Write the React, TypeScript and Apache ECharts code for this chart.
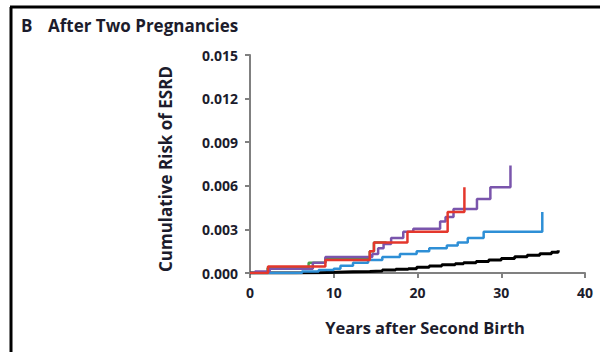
import React, { useEffect, useRef } from "react";
import * as echarts from "echarts";

const xTicks = [0, 10, 20, 30, 40];
const yTicks = [0, 0.003, 0.006, 0.009, 0.012, 0.015];

const blackYears = [0, 5.2, 8.2, 10.3, 12.3, 14.3, 15.8, 17.4, 18.9, 19.9, 21.4, 22.9, 24.5, 25.5, 27.0, 28.5, 30.0, 31.6, 33.1, 34.6, 36.0, 36.8];
const blackRisk = [0, 0.00002, 0.00005, 0.00008, 0.0001, 0.00014, 0.0002, 0.00025, 0.0003, 0.0004, 0.00048, 0.00056, 0.00063, 0.00071, 0.00079, 0.00089, 0.001, 0.00112, 0.00122, 0.00132, 0.00142, 0.00157];

const blueYears = [0, 6.2, 8.2, 10.0, 10.8, 12.3, 14.1, 15.8, 17.9, 19.9, 21.4, 23.5, 24.8, 26.0, 27.9, 34.9, 34.9];
const blueRisk = [0, 0.0001, 0.0002, 0.0003, 0.0005, 0.0007, 0.0009, 0.0011, 0.0013, 0.0015, 0.0017, 0.0019, 0.0021, 0.0024, 0.00284, 0.00284, 0.0042];

const greenYears = [0, 2.1, 7.0, 9.0, 14.3, 14.8, 16.3];
const greenRisk = [0, 0.00035, 0.0007, 0.001, 0.0015, 0.0021, 0.0021];

const redYears = [0, 2.15, 9.0, 14.3, 14.8, 18.8, 23.6, 25.6, 25.6];
const redRisk = [0, 0.00045, 0.0009, 0.0015, 0.0021, 0.00284, 0.0042, 0.0042, 0.0059];

const purpleYears = [0, 0.6, 2.35, 7.5, 9.0, 14.6, 15.3, 15.95, 16.85, 18.3, 19.5, 22.7, 23.35, 24.3, 27.1, 28.7, 31.1, 31.1];
const purpleRisk = [0, 0.0001, 0.0003, 0.0007, 0.0011, 0.0013, 0.0017, 0.002, 0.0024, 0.00284, 0.00305, 0.00355, 0.00385, 0.0044, 0.0051, 0.0059, 0.0059, 0.0074];

const zip = (xs: number[], ys: number[]) => xs.map((x, i) => [x, ys[i]]);

const FONT = "'Open Sans', sans-serif";
const TXT = "#1c1c2c";
const AXIS = "#808080";

export default function App() {
  const ref = useRef<HTMLDivElement>(null);
  useEffect(() => {
    if (!ref.current) return;
    const chart = echarts.init(ref.current, undefined, { renderer: "svg" });
    const mk = (name: string, xs: number[], ys: number[], color: string, width: number) => ({
      name,
      type: "line",
      step: "end",
      data: zip(xs, ys),
      showSymbol: false,
      symbol: "none",
      lineStyle: { color, width },
      itemStyle: { color },
      silent: true,
    });
    chart.setOption({
      animation: false,
      grid: { left: 250, right: 15, top: 55, bottom: 79 },
      xAxis: {
        type: "value",
        min: 0,
        max: 40,
        interval: 10,
        axisLine: { show: true, lineStyle: { color: AXIS, width: 2 } },
        axisTick: { show: true, length: 5, lineStyle: { color: AXIS, width: 2 } },
        axisLabel: {
          fontFamily: FONT, fontSize: 14, fontWeight: 700, color: TXT, margin: 12,
          formatter: (v: number) => (xTicks.includes(v) ? String(v) : ""),
        },
        splitLine: { show: false },
      },
      yAxis: {
        type: "value",
        min: 0,
        max: 0.015,
        interval: 0.003,
        axisLine: { show: true, lineStyle: { color: AXIS, width: 2 } },
        axisTick: { show: true, length: 5, lineStyle: { color: AXIS, width: 2 } },
        axisLabel: {
          fontFamily: FONT, fontSize: 14, fontWeight: 700, color: TXT, margin: 12,
          formatter: (v: number) => {
            const t = yTicks.find((k) => Math.abs(k - v) < 1e-9);
            return t === undefined ? "" : t.toFixed(3);
          },
        },
        splitLine: { show: false },
      },
      graphic: [
        { type: "line", shape: { x1: 11, y1: 7, x2: 11, y2: 352 }, style: { stroke: "#000", lineWidth: 3 } },
        { type: "line", shape: { x1: 10, y1: 7, x2: 600, y2: 7 }, style: { stroke: "#000", lineWidth: 3 } },
        { type: "text", x: 21, y: 25, style: { text: "B", fontFamily: FONT, fontSize: 17, fontWeight: 700, fill: TXT, verticalAlign: "middle" } },
        { type: "text", x: 48, y: 25, style: { text: "After Two Pregnancies", fontFamily: FONT, fontSize: 17, fontWeight: 700, fill: TXT, verticalAlign: "middle" } },
        { type: "text", x: 425, y: 327, style: { text: "Years after Second Birth", fontFamily: FONT, fontSize: 16.5, fontWeight: 700, fill: TXT, align: "center", verticalAlign: "middle" } },
        { type: "text", x: 165, y: 169, rotation: Math.PI / 2, style: { text: "Cumulative Risk of ESRD", fontFamily: FONT, fontSize: 17, fontWeight: 700, fill: TXT, align: "center", verticalAlign: "middle" } },
      ],
      series: [
        mk("black", blackYears, blackRisk, "#000000", 3),
        mk("blue", blueYears, blueRisk, "#2e8fd6", 2.5),
        mk("green", greenYears, greenRisk, "#4a9e48", 2.5),
        mk("purple", purpleYears, purpleRisk, "#7a55ac", 2.5),
        mk("red", redYears, redRisk, "#e4372c", 2.5),
      ],
    });
    return () => chart.dispose();
  }, []);
  return (
    <div
      ref={ref}
      style={{ position: "fixed", left: 0, top: 0, width: 600, height: 352, background: "#fff" }}
    />
  );
}
